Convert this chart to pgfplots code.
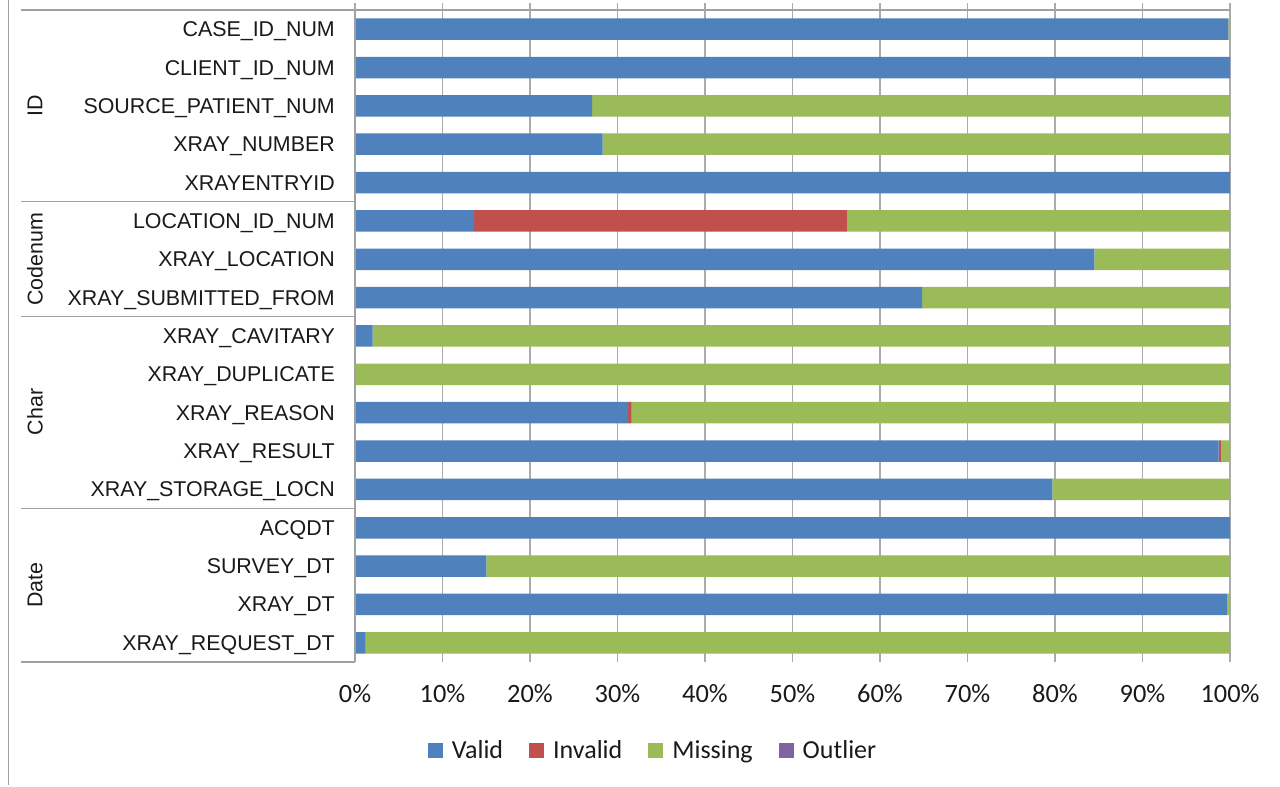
\documentclass[border=0pt]{standalone}
\usepackage{fontspec}
\setmainfont{Liberation Sans}
\newfontfamily\calfont{Carlito}
\usepackage{pgfplots}
\usepackage{pgfplotstable}
\pgfplotsset{compat=1.18}
\definecolor{cvalid}{HTML}{4F81BD}
\definecolor{cinvalid}{HTML}{C0504D}
\definecolor{cmissing}{HTML}{9BBB59}
\definecolor{coutlier}{HTML}{8064A2}
\definecolor{gridgray}{HTML}{ABABAB}
\definecolor{boxgray}{HTML}{A0A0A0}
\definecolor{txt}{HTML}{1A1A1A}

% y = 16 is the top row (CASE_ID_NUM), y = 0 the bottom row
\pgfplotstableread{
row valid invalid missing outlier
16 99.8 0    0.2  0
15 100  0    0    0
14 27.1 0    72.9 0
13 28.3 0    71.7 0
12 100  0    0    0
11 13.6 42.6 43.8 0
10 84.5 0    15.5 0
9  64.8 0    35.2 0
8  2.0  0    98.0 0
7  0    0    100  0
6  31.2 0.4  68.4 0
5  98.7 0.3  1.0  0
4  79.7 0    20.3 0
3  100  0    0    0
2  15.0 0    85.0 0
1  99.7 0    0.3  0
0  1.2  0    98.8 0
}\datatable

\begin{document}
\begin{tikzpicture}[x=1pt,y=1pt]
\useasboundingbox (0,0) rectangle (1280,787);
\fill[white] (0,0) rectangle (1280,787);
\begin{axis}[
  at={(355pt,125pt)}, anchor=south west,
  scale only axis, width=875pt, height=652pt,
  xbar stacked, bar width=21.5pt,
  xmin=0, xmax=100, ymin=-0.5, ymax=16.5,
  ytick={0,...,16},
  yticklabels={XRAY\_REQUEST\_DT, XRAY\_DT, SURVEY\_DT, ACQDT, XRAY\_STORAGE\_LOCN, XRAY\_RESULT, XRAY\_REASON, XRAY\_DUPLICATE, XRAY\_CAVITARY, XRAY\_SUBMITTED\_FROM, XRAY\_LOCATION, LOCATION\_ID\_NUM, XRAYENTRYID, XRAY\_NUMBER, SOURCE\_PATIENT\_NUM, CLIENT\_ID\_NUM, CASE\_ID\_NUM},
  yticklabel style={font=\fontsize{21.4}{25}\selectfont, text=txt, anchor=base east, inner sep=0pt, xshift=-20pt, yshift=-7.5pt},
  xtick={0,10,...,100},
  /pgf/number format/assume math mode=true,
  xticklabel={\pgfmathprintnumber{\tick}\%},
  xticklabel style={font=\calfont\fontsize{26.4}{30}\selectfont, text=txt, anchor=north, inner sep=0pt, yshift=-22pt},
  axis line style={draw=none},
  major tick length=0pt,
  xmajorgrids, grid style={gridgray, line width=1.2pt},
  legend style={at={(0.3406,-0.135)}, anchor=center, legend columns=4, draw=none, fill=none,
    font=\calfont\fontsize{26}{30}\selectfont, text=txt,
    /tikz/every odd column/.append style={column sep=7pt},
    /tikz/every even column/.append style={column sep=24pt}},
  legend image code/.code={\fill[#1,draw=none] (0pt,-7.5pt) rectangle (15pt,7.5pt);},
]
\addplot[fill=cvalid, draw=none] table[x=valid, y=row] {\datatable};
\addplot[fill=cinvalid, draw=none] table[x=invalid, y=row] {\datatable};
\addplot[fill=cmissing, draw=none] table[x=missing, y=row] {\datatable};
\addplot[fill=coutlier, draw=none] table[x=outlier, y=row] {\datatable};
\legend{Valid, Invalid, Missing, Outlier}
\end{axis}
% frame lines
\draw[boxgray, line width=1.2pt] (355,784) -- (355,125);
\draw[boxgray, line width=1.2pt] (21,777) -- (1230,777);
\foreach \i in {0,...,10} { \draw[gridgray, line width=1.2pt] (355+87.5*\i,777) -- (355+87.5*\i,784); }
\draw[boxgray, line width=1.2pt] (21,585.2) -- (355,585.2);
\draw[boxgray, line width=1.2pt] (21,470.2) -- (355,470.2);
\draw[boxgray, line width=1.2pt] (21,278.4) -- (355,278.4);
\draw[boxgray, line width=1.2pt] (21,125) -- (355,125);
\draw[boxgray, line width=1pt] (8,2) -- (8,787);
% group labels
\begin{scope}[every node/.style={rotate=90, font=\fontsize{21.4}{25}\selectfont, text=txt, inner sep=0pt}]
\node at (35,681) {ID};
\node at (35,527.5) {Codenum};
\node at (35,375) {Char};
\node at (35,202) {Date};
\end{scope}
\end{tikzpicture}
\end{document}
